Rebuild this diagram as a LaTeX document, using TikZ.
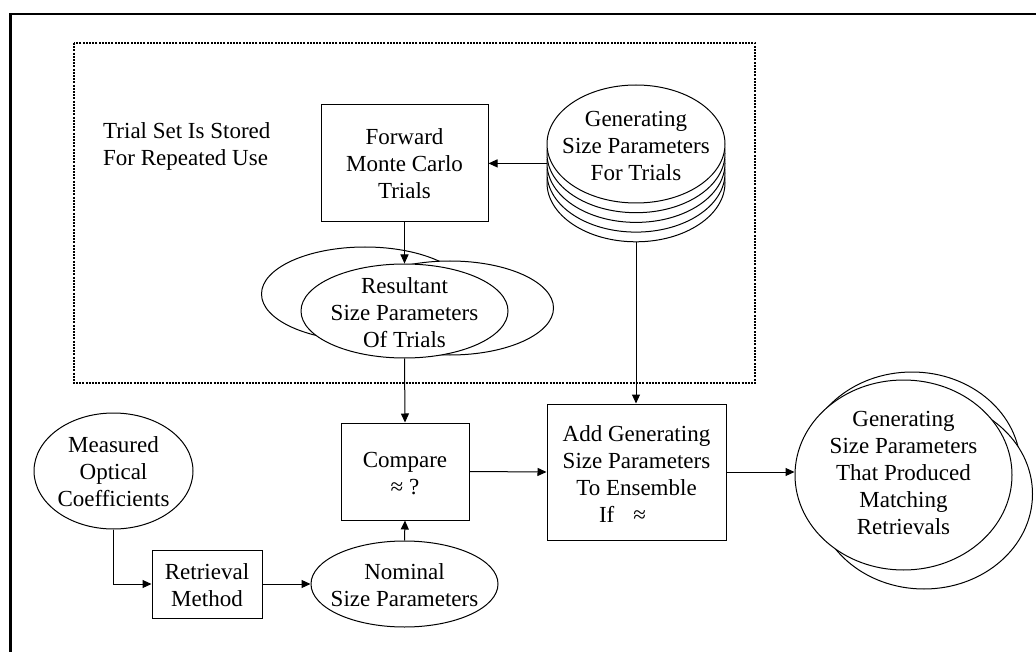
\documentclass[tikz,border=0pt]{standalone}
\usepackage{fontspec}
\setmainfont{Liberation Serif}
\usetikzlibrary{shapes.geometric,arrows.meta}
\begin{document}
\begin{tikzpicture}[x=1pt,y=-1pt,
  every node/.style={font=\fontsize{23}{27}\selectfont},
  txt/.style={align=center, inner sep=0pt},
  boxnode/.style={draw, line width=1pt, rectangle, inner sep=0pt, fill=white},
  ell/.style={draw, line width=1pt, ellipse, inner sep=0pt, fill=white},
  arr/.style={line width=1pt, -{Triangle[length=9pt,width=8pt]}},
  ln/.style={line width=1pt}]
\useasboundingbox (0,0) rectangle (1036,652);
% outer frame (only top and left visible)
\draw[line width=2.4pt] (10.5,652) -- (10.5,14) -- (1036,14);
% dotted region
\draw[line width=2pt, dash pattern=on 2pt off 1.2pt] (73.5,43) rectangle (755,383);
\node[txt, align=left, anchor=west] (trialset) at (103,146) {Trial Set Is Stored\\For Repeated Use};
% forward box
\node[boxnode, minimum width=167pt, minimum height=117pt] (forward) at (404.5,163.5) {};
\node[txt] (forwardtxt) at (forward.center) {Forward\\Monte Carlo\\Trials};
% stack
\foreach \k in {4,3,2,1}{
  \node[ell, minimum width=178pt, minimum height=118pt] (stack\k) at (636,144+9.7*\k) {};
}
\node[ell, minimum width=178pt, minimum height=118pt] (stack) at (636,144) {};
\node[txt] (stacktxt) at (636,146) {Generating\\Size Parameters\\For Trials};
% resultant
\node[ell, minimum width=207pt, minimum height=94pt] (resA) at (365,294) {};
\node[ell, minimum width=207pt, minimum height=94pt] (resB) at (450,308) {};
\node[ell, minimum width=207pt, minimum height=94pt] (res) at (404.5,311) {};
\node[txt] (restxt) at (404.5,313) {Resultant\\Size Parameters\\Of Trials};
% compare
\node[boxnode, minimum width=128pt, minimum height=97pt] (compare) at (405,471.5) {};
\node[txt] (comparetxt) at (405,474) {Compare\\≈ ?};
% add
\node[boxnode, minimum width=179pt, minimum height=136pt] (add) at (636.5,472) {};
\node[txt] (addtxt) at (636.5,474) {Add Generating\\Size Parameters\\To Ensemble\\If\hspace{19pt}≈\rule{28pt}{0pt}};
% generating output
\node[ell, minimum width=217pt, minimum height=190pt] (genA) at (912,467) {};
\node[ell, minimum width=217pt, minimum height=190pt] (genB) at (924,494) {};
\node[ell, minimum width=217pt, minimum height=190pt] (gen) at (903.5,475) {};
\node[txt] (gentxt) at (903.5,473) {Generating\\Size Parameters\\That Produced\\Matching\\Retrievals};
% measured
\node[ell, minimum width=159pt, minimum height=116pt] (meas) at (113.5,471) {};
\node[txt] (meastxt) at (113.5,472) {Measured\\Optical\\Coefficients};
% retrieval
\node[boxnode, minimum width=110pt, minimum height=68pt] (retr) at (207,584) {};
\node[txt] (retrtxt) at (207,585) {Retrieval\\Method};
% nominal
\node[ell, minimum width=187pt, minimum height=86pt] (nom) at (404.5,584) {};
\node[txt] (nomtxt) at (404.5,585) {Nominal\\Size Parameters};
% connectors
\draw[arr] (stack2.west) -- (forward.east |- stack2.west);
\draw[arr] (forward.south) -- (res.north);
\draw[arr] (res.south) -- (compare.north);
\draw[arr] (stack4.south) -- (add.north -| stack4.south);
\draw[arr] (compare.east) -- (add.west);
\draw[arr] (add.east) -- (gen.west |- add.east);
\draw[arr] (meas.south) |- (retr.west);
\draw[arr] (retr.east) -- (nom.west);
\draw[arr] (nom.north) -- (compare.south);
\end{tikzpicture}
\end{document}
